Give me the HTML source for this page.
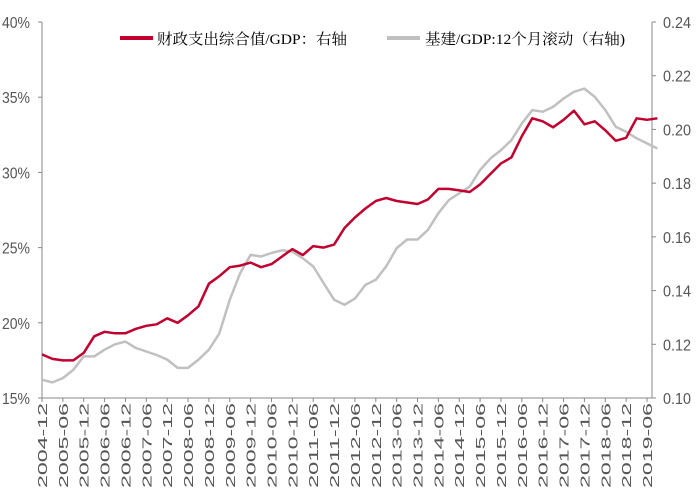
<!DOCTYPE html>
<html><head><meta charset="utf-8"><style>
body{margin:0;background:#fff}
svg{display:block}
text{font-family:"Liberation Sans","Noto Sans CJK SC",sans-serif}
</style></head><body>
<svg id="chart" width="700" height="495" viewBox="0 0 700 495">
<g id="axes"></g>
<g id="series"></g>
<g>
<line x1="120" y1="38" x2="153" y2="38" stroke="#c0002f" stroke-width="4"/>
<text x="157" y="44" font-size="15" textLength="190" lengthAdjust="spacingAndGlyphs" style="font-family:'Liberation Serif','Noto Serif CJK SC',serif">财政支出综合值/GDP：右轴</text>
<line x1="387" y1="38" x2="420" y2="38" stroke="#c0c0c0" stroke-width="4"/>
<text x="425" y="44" font-size="15" textLength="200" lengthAdjust="spacingAndGlyphs" style="font-family:'Liberation Serif','Noto Serif CJK SC',serif">基建/GDP:12个月滚动（右轴)</text>
</g>
</svg>
<script>
const startYear = 2004, startMonth = 12, stepMonths = 3;
const fiscalValues = [17.9,17.6,17.5,17.5,18.0,19.1,19.4,19.3,19.3,19.6,19.8,19.9,20.3,20.0,20.5,21.1,22.6,23.1,23.7,23.8,24.0,23.7,23.9,24.4,24.9,24.5,25.1,25.0,25.2,26.3,27.0,27.6,28.1,28.3,28.1,28.0,27.9,28.2,28.9,28.9,28.8,28.7,29.2,29.9,30.6,31.0,32.4,33.6,33.4,33.0,33.5,34.1,33.2,33.4,32.8,32.1,32.3,33.6,33.5,33.6];
const infraValues = [0.1068,0.1058,0.1074,0.1105,0.1155,0.1155,0.118,0.120,0.121,0.1186,0.1173,0.116,0.1143,0.1112,0.1112,0.1143,0.118,0.124,0.1366,0.1465,0.1533,0.1527,0.154,0.155,0.1545,0.152,0.149,0.1428,0.1366,0.1347,0.137,0.1421,0.144,0.149,0.1558,0.159,0.159,0.1626,0.1688,0.1737,0.1762,0.1787,0.1849,0.1892,0.1923,0.196,0.2022,0.2072,0.2066,0.2084,0.2115,0.214,0.2152,0.2121,0.2072,0.201,0.1991,0.1967,0.1948,0.1929];
const leftTicks = [15,20,25,30,35,40];
const rightTicks = [0.10,0.12,0.14,0.16,0.18,0.20,0.22,0.24];
const xTickLabels = [];
for (let y = 2004; y <= 2019; y++) { for (const m of ['06','12']) { const s = y + '-' + m; if (s >= '2004-12' && s <= '2019-06') xTickLabels.push(s); } }

const X0 = 42, X1 = 652, YT = 22, YB = 398, PXM = 605/174;
const xM = m => X0 + m * PXM;
const yL = v => YB - (v - 15) / 25 * (YB - YT);
const yR = v => YB - (v - 0.10) / 0.14 * (YB - YT);
const NS = 'http://www.w3.org/2000/svg';
const axes = document.getElementById('axes'), series = document.getElementById('series');
function mk(tag, attrs, parent) { const e = document.createElementNS(NS, tag); for (const k in attrs) e.setAttribute(k, attrs[k]); parent.appendChild(e); return e; }

const la = mk('line', {x1:X0,y1:YT,x2:X0,y2:YB,stroke:'#888','stroke-width':1}, axes);
 
const ra = mk('line', {x1:X1,y1:YT,x2:X1,y2:YB,stroke:'#888','stroke-width':1}, axes);
 
const ba = mk('line', {x1:X0,y1:YB,x2:X1,y2:YB,stroke:'#888','stroke-width':1}, axes);
 

leftTicks.forEach(v => {
  const y = yL(v);
  mk('line', {x1:X0-4,y1:y,x2:X0,y2:y,stroke:'#888'}, axes);
  const t = mk('text', {x:30,y:y+6,'font-size':16,'text-anchor':'end',fill:'#555',textLength:28,lengthAdjust:'spacingAndGlyphs'}, axes);
  t.textContent = v + '%';
  
  
});
rightTicks.forEach(v => {
  const y = yR(v);
  mk('line', {x1:X1,y1:y,x2:X1+4,y2:y,stroke:'#888'}, axes);
  const t = mk('text', {x:663,y:y+6,'font-size':16,fill:'#555',textLength:28,lengthAdjust:'spacingAndGlyphs'}, axes);
  t.textContent = v.toFixed(2);
  
  
});
xTickLabels.forEach((s, i) => {
  const x = xM(i * 6);
  mk('line', {x1:x,y1:YB,x2:x,y2:YB+4,stroke:'#888'}, axes);
  const t = mk('text', {x:0,y:0,'font-size':13,'text-anchor':'end',fill:'#555',transform:`translate(${x+5},403) rotate(-90)`,textLength:85,lengthAdjust:'spacingAndGlyphs'}, axes);
  t.textContent = s;
  
  
});

function path(vals, yf) { return vals.map((v, i) => (i ? 'L' : 'M') + xM(i * stepMonths).toFixed(1) + ',' + yf(v).toFixed(1)).join(''); }
const g = mk('path', {d:path(infraValues, yR),fill:'none',stroke:'#c0c0c0','stroke-width':2.5,'stroke-linejoin':'round'}, series);


const r = mk('path', {d:path(fiscalValues, yL),fill:'none',stroke:'#c0002f','stroke-width':2.5,'stroke-linejoin':'round'}, series);


</script>
</body></html>
